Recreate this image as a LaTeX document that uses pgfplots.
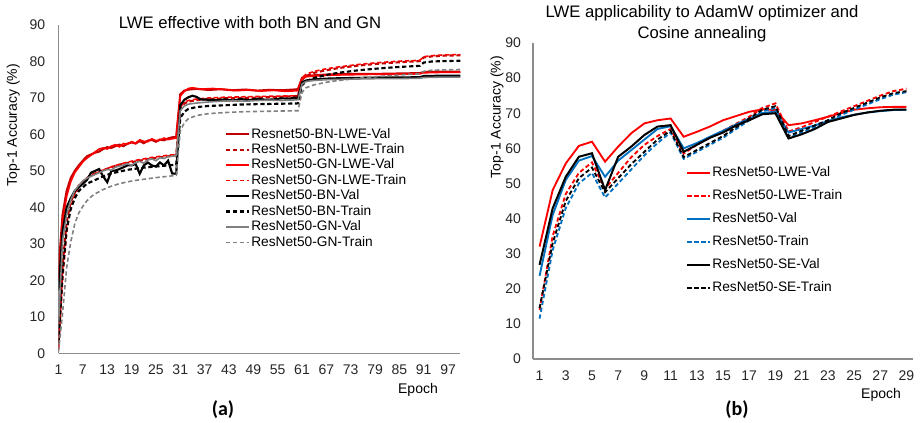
\documentclass[border=0pt]{standalone}
\usepackage{pgfplots}
\pgfplotsset{compat=1.18}
\usepackage{fontspec}
\setmainfont{Liberation Sans}
\newfontfamily\calibri{Carlito}

\definecolor{dred}{HTML}{C00000}
\definecolor{bred}{HTML}{FF0000}
\definecolor{mblue}{HTML}{0070C0}
\definecolor{mgray}{HTML}{808080}

\pgfplotsset{
  xlcommon/.style={
    scale only axis,
    axis lines=left,
    axis line style={-, draw=black!45, line width=0.8pt},
    major tick length=0pt,
    ymin=0, ymax=90, ytick={0,10,...,90},
    ticklabel style={font=\fontsize{10.5}{12}\selectfont, text=black!85},
    /pgf/number format/assume math mode=true,
    x tick label style={yshift=-5pt},
    legend cell align=left,
    legend image code/.code={\draw[##1, line cap=butt] plot coordinates {(0pt,0.35pt) (8.5pt,0.35pt) (17pt,0.35pt)};},
    legend style={draw=none, fill=none, inner sep=0pt,
      font=\fontsize{10.3}{11}\selectfont,
      nodes={inner xsep=1pt, inner ysep=0pt, text height=8pt, text depth=3pt}},
  },
}

\begin{document}
\begin{tikzpicture}
\useasboundingbox (0,0) rectangle (690pt,317.25pt);

% ---------------- (a) ----------------
\begin{axis}[xlcommon,
  at={(43.9pt,52.3pt)}, anchor=south west,
  width=301.3pt, height=246.2pt,
  xmin=1, xmax=100, xtick={1,7,...,97},
  y tick label style={xshift=-6.5pt},
  legend style={at={(0.414,0.689)}, anchor=north west, row sep=0.6pt},
]
% Resnet50-BN-LWE-Val
\addplot[color=dred, line width=1.6pt] coordinates {
(1,22.7)(2,38)(3,44.5)(4,48)(5,50)(6,51.5)(7,52.8)(8,54)(9,54.5)(10,55)
(11,55.3)(12,56)(13,56.5)(14,56.3)(15,56.8)(16,57.2)(17,56.8)(18,57.5)(19,57.8)(20,57.5)
(21,58.2)(22,57.6)(23,58.3)(24,58.5)(25,58)(26,58.6)(27,58.4)(28,58.9)(29,59.2)(30,59.3)
(31,71)(32,72)(33,72.3)(35,72.5)(38,72.2)(41,72.4)(44,72.1)(47,72.3)(50,72.0)(53,72.2)
(56,72.1)(59,72.3)(60,72.4)(61,75.5)(62,76)(64,76.2)(67,76.4)(70,76.5)(75,76.6)(80,76.6)
(85,76.7)(90,76.8)(91,77.1)(95,77.2)(100,77.2)};
\addlegendentry{Resnet50-BN-LWE-Val}
% ResNet50-BN-LWE-Train
\addplot[color=dred, line width=1.6pt, dash pattern=on 3.2pt off 2pt] coordinates {
(1,2)(2,24)(3,36)(4,41.5)(5,44)(6,46)(7,47)(8,48)(9,48.8)(10,49.3)
(12,50.2)(14,51)(16,51.7)(18,52.2)(20,52.6)(22,53)(24,53.4)(26,53.7)(28,54)(30,54.3)
(31,67)(32,68.5)(33,69)(35,69.4)(38,69.7)(42,69.9)(46,70)(50,70.1)(55,70.3)(60,70.5)
(61,75)(62,76)(64,76.9)(67,77.6)(70,78.2)(75,78.9)(80,79.4)(85,79.8)(90,80.1)
(91,81.1)(93,81.4)(96,81.6)(100,81.7)};
\addlegendentry{ResNet50-BN-LWE-Train}
% ResNet50-GN-LWE-Val
\addplot[color=bred, line width=1.2pt] coordinates {
(1,20)(2,36)(3,43)(4,47)(5,49.5)(6,51)(7,52.5)(8,53.5)(9,54.3)(10,55.2)
(11,56)(12,56.3)(13,56)(14,56.8)(15,57.2)(16,56.6)(17,57.5)(18,57.3)(19,58)(20,57.6)
(21,58.5)(22,58.1)(23,58)(24,58.8)(25,58.3)(26,58.4)(27,59)(28,58.6)(29,58.8)(30,59)
(31,70.5)(32,71.8)(33,72.6)(34,72.8)(36,72.4)(39,72.6)(42,72.3)(45,72)(48,72.2)(51,71.9)
(54,72.1)(57,71.8)(60,72)(61,75.2)(62,75.8)(64,76)(67,76.2)(70,76.3)(75,76.4)(80,76.5)
(85,76.5)(90,76.6)(91,76.9)(95,77)(100,77)};
\addlegendentry{ResNet50-GN-LWE-Val}
% ResNet50-GN-LWE-Train
\addplot[color=bred, line width=1.2pt, dash pattern=on 3.2pt off 2pt] coordinates {
(1,1)(2,20)(3,33)(4,40)(5,43.5)(6,45.5)(7,46.8)(8,47.8)(9,48.6)(10,49.2)
(12,50.2)(14,51.1)(16,51.8)(18,52.4)(20,52.9)(22,53.3)(24,53.7)(26,54)(28,54.3)(30,54.5)
(31,67.5)(32,68.8)(33,69.3)(35,69.7)(38,70)(42,70.2)(46,70.3)(50,70.4)(55,70.5)(60,70.6)
(61,75.5)(62,76.5)(64,77.3)(67,78)(70,78.5)(75,79.2)(80,79.7)(85,80.1)(90,80.3)
(91,81.3)(93,81.6)(96,81.8)(100,81.9)};
\addlegendentry{ResNet50-GN-LWE-Train}
% ResNet50-BN-Val
\addplot[color=black, line width=1.6pt] coordinates {
(1,17.2)(2,33.5)(3,40)(4,42.5)(5,44.5)(6,45.5)(7,46.5)(8,47.5)(9,49.5)(10,50)
(11,50.5)(12,48.5)(13,46.9)(14,50)(15,50.1)(16,50.5)(17,51)(18,51.5)(19,51.5)(20,51.9)
(21,49.2)(22,51.5)(23,52.3)(24,51.5)(25,51.2)(26,52.3)(27,51.5)(28,52.8)(29,49.3)(30,49.2)
(31,68)(32,69.5)(33,70.2)(34,70.6)(35,70.3)(36,69.6)(38,69.5)(40,69.4)(42,69.6)(44,69.3)
(46,69.7)(48,69.4)(50,69.8)(52,69.5)(54,69.6)(56,69.9)(58,69.8)(59,70.1)(60,69.9)
(61,74.3)(62,74.8)(64,75.1)(67,75.3)(70,75.4)(75,75.5)(80,75.6)(85,75.6)(90,75.7)
(91,76)(95,76.1)(100,76.1)};
\addlegendentry{ResNet50-BN-Val}
% ResNet50-BN-Train
\addplot[color=black, line width=1.6pt, dash pattern=on 3.2pt off 2pt] coordinates {
(1,3)(2,22)(3,34)(4,39.5)(5,42.5)(6,44.5)(7,45.5)(8,46.5)(9,47)(10,47.5)
(12,48.5)(14,49.3)(16,49.8)(18,50.3)(20,50.6)(22,50.9)(24,51.1)(26,51.3)(28,51.5)(30,51.7)
(31,64.5)(32,66.2)(33,67)(35,67.5)(38,67.8)(42,68)(46,68.2)(50,68.3)(55,68.4)(60,68.5)
(61,73.5)(62,74.5)(64,75.5)(67,76.3)(70,76.9)(75,77.6)(80,78.1)(85,78.5)(90,78.8)
(91,79.7)(93,80)(96,80.1)(100,80.2)};
\addlegendentry{ResNet50-BN-Train}
% ResNet50-GN-Val
\addplot[color=mgray, line width=1.2pt] coordinates {
(1,8)(2,31)(3,38)(4,42)(5,44.6)(6,46)(7,47.3)(8,48)(9,48.5)(10,49)
(11,49.5)(12,50)(13,50.4)(14,50.2)(15,51)(16,51.3)(17,51.6)(18,52)(19,51.5)(20,52.3)
(21,52.6)(22,52.1)(23,53)(24,53.3)(25,52.8)(26,53.6)(27,53.4)(28,53.9)(29,54)(30,54.2)
(31,66.5)(32,67.8)(33,68.3)(35,68.6)(38,68.9)(41,69.1)(44,69.2)(47,69.1)(50,69.3)(53,69.4)
(56,69.3)(60,69.5)(61,73.8)(62,74.5)(64,74.8)(67,75)(70,75.1)(75,75.2)(80,75.3)(85,75.3)
(90,75.4)(91,75.6)(95,75.7)(100,75.7)};
\addlegendentry{ResNet50-GN-Val}
% ResNet50-GN-Train
\addplot[color=mgray, line width=1.2pt, dash pattern=on 3.2pt off 2pt] coordinates {
(1,0.5)(2,11)(3,23.5)(4,30.5)(5,35.5)(6,38.5)(7,40.3)(8,41.8)(9,42.9)(10,43.7)
(12,44.9)(14,45.8)(16,46.5)(18,47)(20,47.4)(22,47.7)(24,48)(26,48.3)(28,48.5)(30,48.8)
(31,61)(32,63.2)(33,64.3)(35,65.2)(38,65.7)(42,66)(46,66.2)(50,66.3)(55,66.4)(60,66.5)
(61,71.5)(62,72.8)(64,73.6)(67,74.3)(70,74.8)(75,75.4)(80,75.9)(85,76.3)(90,76.6)
(91,77.3)(93,77.6)(96,77.7)(100,77.8)};
\addlegendentry{ResNet50-GN-Train}
\end{axis}

% ---------------- (b) ----------------
\begin{axis}[xlcommon,
  at={(399.75pt,48pt)}, anchor=south west,
  width=285pt, height=237pt,
  xmin=0.5, xmax=29.5, xtick={1,3,...,29},
  y tick label style={xshift=-5.5pt},
  legend style={at={(0.403,0.611)}, anchor=north west, row sep=6.2pt},
]
\addplot[color=bred, line width=1.4pt] coordinates {
(1,32)(2,48.1)(3,55.7)(4,60.7)(5,61.9)(6,56.2)(7,60.5)(8,64.3)(9,67.1)(10,68)
(11,68.5)(12,63.3)(13,64.7)(14,66.2)(15,68)(16,69.2)(17,70.4)(18,71.1)(19,70.9)(20,66.6)
(21,67.1)(22,68)(23,69)(24,70)(25,71)(26,71.4)(27,71.7)(28,71.8)(29,71.8)};
\addlegendentry{ResNet50-LWE-Val}
\addplot[color=bred, line width=1.4pt, dash pattern=on 3.2pt off 2pt] coordinates {
(1,14)(2,35)(3,47)(4,53)(5,56)(6,48.5)(7,53)(8,57.5)(9,61)(10,63.5)
(11,65.5)(12,58.5)(13,61)(14,63)(15,65)(16,67)(17,69)(18,71.5)(19,72.8)(20,64.8)
(21,66)(22,67.5)(23,69)(24,70.5)(25,72)(26,73.5)(27,75)(28,76.3)(29,77)};
\addlegendentry{ResNet50-LWE-Train}
\addplot[color=mblue, line width=1.4pt] coordinates {
(1,23.7)(2,41)(3,51)(4,56.5)(5,57.8)(6,51.9)(7,56.5)(8,59.5)(9,62.5)(10,65.5)
(11,66.3)(12,60)(13,61.5)(14,63.3)(15,65)(16,66.8)(17,68.5)(18,70)(19,70.5)(20,64.5)
(21,65.5)(22,66.5)(23,67.8)(24,68.8)(25,69.6)(26,70.2)(27,70.6)(28,70.9)(29,71)};
\addlegendentry{ResNet50-Val}
\addplot[color=mblue, line width=1.4pt, dash pattern=on 3.2pt off 2pt] coordinates {
(1,11.5)(2,31)(3,43)(4,50)(5,53)(6,46)(7,50)(8,54)(9,58)(10,61.5)
(11,64.5)(12,57)(13,59)(14,61)(15,63)(16,65.5)(17,68)(18,70.5)(19,71.5)(20,63)
(21,64.5)(22,66)(23,67.5)(24,69.5)(25,71)(26,72.5)(27,74)(28,75.3)(29,76)};
\addlegendentry{ResNet50-Train}
\addplot[color=black, line width=1.5pt] coordinates {
(1,26.8)(2,42.9)(3,51.9)(4,57.6)(5,58.6)(6,48.1)(7,57.6)(8,60.5)(9,63.8)(10,66.2)
(11,66.6)(12,59)(13,61)(14,63)(15,64.5)(16,66.5)(17,68)(18,69.7)(19,70)(20,62.8)
(21,64)(22,65.5)(23,67.5)(24,68.5)(25,69.5)(26,70.2)(27,70.7)(28,71)(29,71)};
\addlegendentry{ResNet50-SE-Val}
\addplot[color=black, line width=1.4pt, dash pattern=on 3.2pt off 2pt] coordinates {
(1,14.5)(2,33)(3,45)(4,51.5)(5,54.5)(6,47.5)(7,51.5)(8,55.5)(9,59)(10,62.5)
(11,65)(12,57.5)(13,59.5)(14,61.5)(15,63.5)(16,66)(17,68.5)(18,71)(19,72)(20,63.5)
(21,65)(22,66.5)(23,68)(24,70)(25,71.5)(26,73)(27,74.5)(28,75.7)(29,76.3)};
\addlegendentry{ResNet50-SE-Train}
\end{axis}

% titles and labels
\node[font=\fontsize{12.5}{14}\selectfont] at (187.5pt,300pt) {LWE effective with both BN and GN};
\node[font=\fontsize{12.5}{15.75}\selectfont, align=center] at (526.5pt,299.6pt)
  {LWE applicability to AdamW optimizer and\\Cosine annealing};
\node[rotate=90, font=\fontsize{10.5}{12}\selectfont] at (10pt,223.5pt) {Top-1 Accuracy (\%)};
\node[rotate=90, font=\fontsize{10.5}{12}\selectfont] at (372.75pt,229.5pt) {Top-1 Accuracy (\%)};
\node[font=\fontsize{10.5}{12}\selectfont] at (313.5pt,24.75pt) {Epoch};
\node[font=\fontsize{10.5}{12}\selectfont] at (660.75pt,21pt) {Epoch};
\node[font=\calibri\bfseries\fontsize{15}{17}\selectfont] at (167.25pt,9.75pt) {(a)};
\node[font=\calibri\bfseries\fontsize{15}{17}\selectfont] at (552.75pt,9.75pt) {(b)};
\end{tikzpicture}
\end{document}
